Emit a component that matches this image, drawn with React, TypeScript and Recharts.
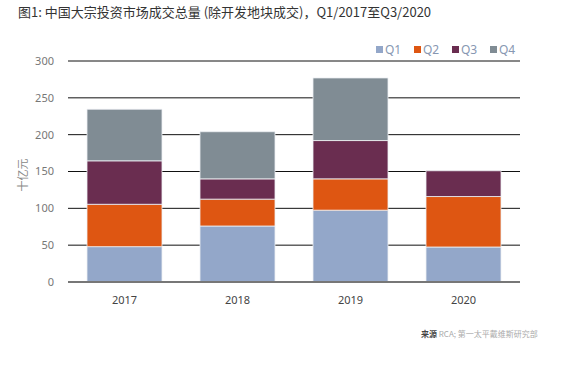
import React from "react";
import { BarChart, Bar, XAxis, YAxis, CartesianGrid } from "recharts";

const categories = ["2017", "2018", "2019", "2020"];
const q1 = [48, 76, 97.5, 47.5];
const q2 = [57.5, 36.5, 42.5, 68.5];
const q3 = [59, 27.5, 52, 35];
const q4 = [70, 64, 85, null];
const seriesNames = ["Q1", "Q2", "Q3", "Q4"];
const colors = ["#93A7C9", "#DE5612", "#6A2D50", "#808C94"];
const yTicks = [0, 50, 100, 150, 200, 250, 300];

const data = categories.map((c, i) => ({ year: c, Q1: q1[i], Q2: q2[i], Q3: q3[i], Q4: q4[i] }));

const font = "'Noto Sans', 'Noto Sans CJK SC', sans-serif";

export default function App() {
  return (
    <div style={{ position: "absolute", left: 0, top: 0, width: 574, height: 366, background: "#fff", fontFamily: font }}>
      <div style={{ position: "absolute", left: 18, top: 2, fontSize: 13, color: "#333", fontFamily: "'Noto Sans CJK SC', sans-serif", whiteSpace: "nowrap" }}>
        图1: 中国大宗投资市场成交总量 (除开发地块成交)，Q1/2017至Q3/2020
      </div>
      <div style={{ position: "absolute", left: 8, top: 175, transform: "translate(-50%, -50%) rotate(-90deg)", transformOrigin: "center", marginLeft: 14, fontSize: 11, color: "#888", fontFamily: "'Noto Sans CJK SC', sans-serif", whiteSpace: "nowrap" }}>
        十亿元
      </div>
      <div style={{ position: "absolute", left: 421, top: 328, fontSize: 8, color: "#aaa", fontFamily: "'Noto Sans CJK SC', sans-serif", whiteSpace: "nowrap" }}>
        <span style={{ color: "#444", fontWeight: 700 }}>来源</span> RCA; 第一太平戴维斯研究部
      </div>
      <div style={{ position: "absolute", left: 376, top: 41, display: "flex", fontFamily: font, fontSize: 12, color: "#8797B2" }}>
        {seriesNames.map((n, i) => (
          <div key={n} style={{ display: "flex", alignItems: "center", width: 38 }}>
            <span style={{ display: "inline-block", width: 7, height: 7, background: colors[i], marginRight: 2 }} />
            <span>{n}</span>
          </div>
        ))}
      </div>
      <BarChart width={574} height={366} data={data} margin={{ top: 61, right: 54, left: 8, bottom: 54 }}>
        <CartesianGrid vertical={false} stroke="#111" strokeWidth={1} />
        <XAxis
          dataKey="year"
          height={30}
          axisLine={{ stroke: "#777", strokeWidth: 2 }}
          tickLine={false}
          tick={{ fill: "#444", fontSize: 11, fontFamily: font }}
          tickMargin={8}
        />
        <YAxis
          width={60}
          domain={[0, 300]}
          ticks={yTicks}
          axisLine={false}
          tickLine={false}
          tickSize={0}
          tickMargin={14}
          tick={{ fill: "#777", fontSize: 11, fontFamily: font }}
        />
        {seriesNames.map((n, i) => (
          <Bar key={n} dataKey={n} stackId="a" fill={colors[i]} barSize={75} stroke="#eef0f4" strokeWidth={0.8} isAnimationActive={false} />
        ))}
      </BarChart>
    </div>
  );
}
